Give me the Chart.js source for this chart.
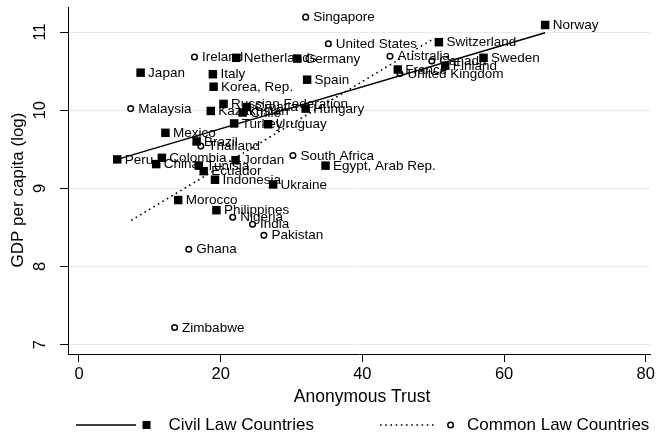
<!DOCTYPE html>
<html>
<head>
<meta charset="utf-8">
<script src="https://cdn.jsdelivr.net/npm/chart.js@4.4.1/dist/chart.umd.min.js"></script>
<style>
  html, body { margin: 0; padding: 0; background: #fff; }
  #wrap { width: 656px; height: 437px; position: relative; }
</style>
</head>
<body>
<div id="wrap"><canvas id="chart"></canvas></div>
<script>
// civil law countries
const civilNames = ['Norway','Switzerland','Sweden','Finland','France','Germany','Netherlands','Japan','Italy','Korea, Rep.','Spain','Russian Federation','Kazakhstan','Croatia','Chile','Hungary','Turkey','Uruguay','Mexico','Brazil','Peru','Colombia','China','Tunisia','Ecuador','Jordan','Indonesia','Ukraine','Egypt, Arab Rep.','Morocco','Philippines'];
const civilTrust = [65.8,50.8,57.1,51.7,45.0,30.8,22.2,8.7,18.9,19.0,32.2,20.4,18.6,23.7,23.1,32.0,21.9,26.7,12.2,16.6,5.4,11.7,10.9,16.9,17.6,22.1,19.2,27.4,34.8,14.0,19.4];
const civilGdp = [11.09,10.87,10.67,10.57,10.52,10.66,10.67,10.48,10.46,10.30,10.39,10.08,9.99,10.04,9.97,10.02,9.83,9.82,9.71,9.60,9.37,9.39,9.31,9.29,9.22,9.36,9.11,9.05,9.29,8.85,8.72];

// common law countries
const commonNames = ['Singapore','United States','Australia','Canada','United Kingdom','Ireland','Malaysia','Thailand','South Africa','Nigeria','India','Pakistan','Ghana','Zimbabwe'];
const commonTrust = [32.0,35.2,43.9,49.8,45.3,16.3,7.3,17.2,30.2,21.7,24.5,26.1,15.5,13.5];
const commonGdp = [11.19,10.85,10.69,10.63,10.47,10.68,10.02,9.54,9.42,8.63,8.54,8.40,8.22,7.22];

// fitted lines (end points)
const civilFitX = [5.4, 65.8];
const civilFitY = [9.37, 10.99];
const commonFitX = [7.37, 49.8];
const commonFitY = [8.59, 10.90];

const xTicks = [0, 20, 40, 60, 80];
const yTicks = [7, 8, 9, 10, 11];

const pts = (xs, ys) => xs.map((x, i) => ({ x, y: ys[i] }));
const FONT = '"Liberation Sans", Arial, Helvetica, sans-serif';

const pointLabels = {
  id: 'pointLabels',
  afterDatasetsDraw(chart) {
    const ctx = chart.ctx;
    ctx.save();
    ctx.fillStyle = '#000';
    ctx.font = '13.5px ' + FONT;
    ctx.textAlign = 'left';
    ctx.textBaseline = 'middle';
    [[2, civilNames], [3, commonNames]].forEach(([idx, names]) => {
      chart.getDatasetMeta(idx).data.forEach((el, i) => {
        ctx.fillText(names[i], el.x + 7.5, el.y + 0.5);
      });
    });
    ctx.restore();
  }
};

const extras = {
  id: 'extras',
  afterDraw(chart) {
    const ctx = chart.ctx;
    const a = chart.chartArea;
    ctx.save();
    ctx.fillStyle = '#000';
    ctx.strokeStyle = '#000';
    ctx.font = '17.5px ' + FONT;
    ctx.textAlign = 'center';
    ctx.textBaseline = 'middle';
    ctx.fillText('Anonymous Trust', 362, 397);
    ctx.font = '17px ' + FONT;
    ctx.translate(18, 190);
    ctx.rotate(-Math.PI / 2);
    ctx.fillText('GDP per capita (log)', 0, 0);
    ctx.restore();

    // legend
    ctx.save();
    const ly = 425;
    ctx.lineWidth = 1.5;
    ctx.beginPath(); ctx.moveTo(76, ly); ctx.lineTo(136, ly); ctx.stroke();
    ctx.fillRect(146.5 - 4, ly - 4, 8, 8);
    ctx.lineWidth = 1.6;
    ctx.setLineDash([1.6, 3.6]);
    ctx.beginPath(); ctx.moveTo(380, ly); ctx.lineTo(435, ly); ctx.stroke();
    ctx.setLineDash([]);
    ctx.lineWidth = 1.5;
    ctx.beginPath(); ctx.arc(450.6, ly, 2.8, 0, Math.PI * 2); ctx.fillStyle = '#fff'; ctx.fill(); ctx.stroke();
    ctx.fillStyle = '#000';
    ctx.font = '17px ' + FONT;
    ctx.textAlign = 'left';
    ctx.textBaseline = 'middle';
    ctx.fillText('Civil Law Countries', 168.5, ly);
    ctx.fillText('Common Law Countries', 467, ly);
    ctx.restore();
  }
};

new Chart(document.getElementById('chart'), {
  type: 'scatter',
  data: {
    datasets: [
      { type: 'line', data: pts(civilFitX, civilFitY), borderColor: '#000', borderWidth: 1.5, pointRadius: 0, fill: false },
      { type: 'line', data: pts(commonFitX, commonFitY), borderColor: '#000', borderWidth: 1.6, borderDash: [1.6, 3.6], pointRadius: 0, fill: false },
      { data: pts(civilTrust, civilGdp), pointStyle: 'rect', pointRadius: 6, backgroundColor: '#000', borderWidth: 0 },
      { data: pts(commonTrust, commonGdp), pointStyle: 'circle', pointRadius: 2.8, backgroundColor: '#fff', borderColor: '#000', borderWidth: 1.5 }
    ]
  },
  options: {
    responsive: true,
    maintainAspectRatio: false,
    animation: false,
    layout: { padding: { top: 7, right: 0, left: 0, bottom: 0 } },
    plugins: { legend: { display: false }, tooltip: { enabled: false } },
    scales: {
      x: {
        type: 'linear', min: -1.55, max: 80.6,
        afterBuildTicks: s => { s.ticks = xTicks.map(v => ({ value: v })); },
        afterFit: s => { s.height = 83; s.paddingLeft = 0; s.paddingRight = 0; },
        grid: { drawOnChartArea: false, tickLength: 8, tickColor: '#000', tickWidth: 1 },
        border: { color: '#000', width: 1 },
        ticks: { color: '#000', font: { family: FONT, size: 16.5 }, padding: 3, maxRotation: 0 }
      },
      y: {
        type: 'linear', min: 6.88, max: 11.32,
        afterBuildTicks: s => { s.ticks = yTicks.map(v => ({ value: v })); },
        afterFit: s => { s.width = 68; s.paddingTop = 0; s.paddingBottom = 0; },
        grid: { color: '#e4ecf0', lineWidth: 1, tickLength: 8, tickColor: '#000', tickWidth: 1 },
        border: { color: '#000', width: 1 },
        ticks: { color: '#000', font: { family: FONT, size: 16.5 }, padding: 10.5, minRotation: 90, maxRotation: 90, crossAlign: 'center' }
      }
    }
  },
  plugins: [pointLabels, extras]
});
</script>
</body>
</html>
